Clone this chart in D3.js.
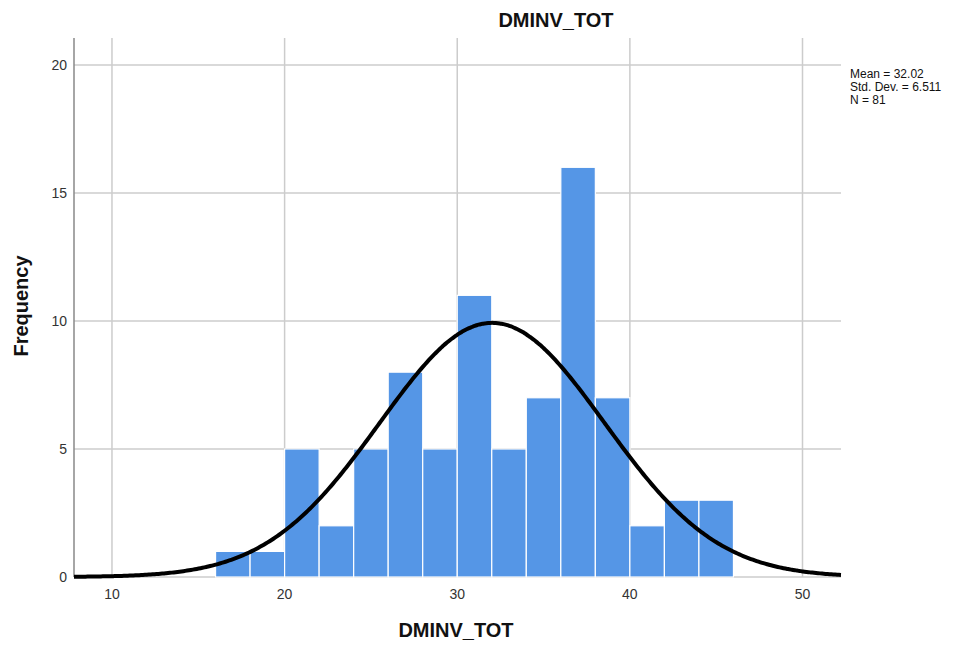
<!DOCTYPE html>
<html>
<head>
<meta charset="utf-8">
<script src="https://cdn.jsdelivr.net/npm/d3@7"></script>
<style>
  body { margin: 0; background: #fff; }
  text { font-family: Arial, "Liberation Sans", sans-serif; }
</style>
</head>
<body>
<svg id="chart" width="965" height="647"></svg>
<script>
// Histogram of DMINV_TOT with fitted normal curve
const binStarts = [16, 18, 20, 22, 24, 26, 28, 30, 32, 34, 36, 38, 40, 42, 44];
const binWidth = 2;
const counts = [1, 1, 5, 2, 5, 8, 5, 11, 5, 7, 16, 7, 2, 3, 3];
const xTicks = [10, 20, 30, 40, 50];
const yTicks = [0, 5, 10, 15, 20];
const stats = { mean: 32.02, sd: 6.511, n: 81 };
const statLines = ["Mean = 32.02", "Std. Dev. = 6.511", "N = 81"];

const svg = d3.select("#chart");
const plotL = 74, plotR = 841, plotT = 38, plotB = 577;
const xMin = 7.8, xMax = 52.23;

const x = d3.scaleLinear().domain([xMin, xMax]).range([plotL, plotR]);
const y = d3.scaleLinear().domain([0, 21.05]).range([plotB, plotT]);

// grid
svg.append("g").selectAll("line").data(xTicks).join("line")
  .attr("x1", d => x(d)).attr("x2", d => x(d))
  .attr("y1", plotT).attr("y2", plotB)
  .attr("stroke", "#cccccc").attr("stroke-width", 1.5);
svg.append("g").selectAll("line").data(yTicks).join("line")
  .attr("x1", plotL).attr("x2", plotR)
  .attr("y1", d => y(d)).attr("y2", d => y(d))
  .attr("stroke", "#cccccc").attr("stroke-width", 1.5);

// bars
svg.append("g").selectAll("rect").data(counts).join("rect")
  .attr("x", (d, i) => x(binStarts[i]))
  .attr("width", (d, i) => x(binStarts[i] + binWidth) - x(binStarts[i]))
  .attr("y", d => y(d))
  .attr("height", d => y(0) - y(d))
  .attr("fill", "#5596e6")
  .attr("stroke", "#ffffff").attr("stroke-width", 1.2);

// y axis line
svg.append("line")
  .attr("x1", plotL).attr("x2", plotL).attr("y1", plotT).attr("y2", plotB)
  .attr("stroke", "#888").attr("stroke-width", 1.5);

// normal curve scaled to counts
const scaleK = stats.n * binWidth / (stats.sd * Math.sqrt(2 * Math.PI));
const curvePts = d3.range(0, 401).map(i => {
  const v = xMin + (xMax - xMin) * i / 400;
  const z = (v - stats.mean) / stats.sd;
  return [v, scaleK * Math.exp(-0.5 * z * z)];
});
svg.append("path").datum(curvePts)
  .attr("d", d3.line().x(d => x(d[0])).y(d => y(d[1])).curve(d3.curveBasis))
  .attr("fill", "none").attr("stroke", "#000").attr("stroke-width", 4);

// tick labels
svg.append("g").selectAll("text").data(xTicks).join("text")
  .attr("x", d => x(d)).attr("y", 599)
  .attr("text-anchor", "middle").attr("font-size", 14).attr("fill", "#333")
  .text(d => d);
svg.append("g").selectAll("text").data(yTicks).join("text")
  .attr("x", 67).attr("y", d => y(d) + 5)
  .attr("text-anchor", "end").attr("font-size", 14).attr("fill", "#333")
  .text(d => d);

// titles
svg.append("text").attr("x", 556).attr("y", 27)
  .attr("text-anchor", "middle").attr("font-size", 20).attr("font-weight", "bold")
  .attr("fill", "#111").text("DMINV_TOT");
svg.append("text").attr("x", 456).attr("y", 637)
  .attr("text-anchor", "middle").attr("font-size", 20).attr("font-weight", "bold")
  .attr("fill", "#111").text("DMINV_TOT");
svg.append("text").attr("transform", "translate(28,306) rotate(-90)")
  .attr("text-anchor", "middle").attr("font-size", 20).attr("font-weight", "bold")
  .attr("fill", "#111").text("Frequency");

// summary statistics
svg.append("g").selectAll("text").data(statLines).join("text")
  .attr("x", 850).attr("y", (d, i) => 78 + i * 13)
  .attr("font-size", 12).attr("fill", "#111")
  .text(d => d);
</script>
</body>
</html>
